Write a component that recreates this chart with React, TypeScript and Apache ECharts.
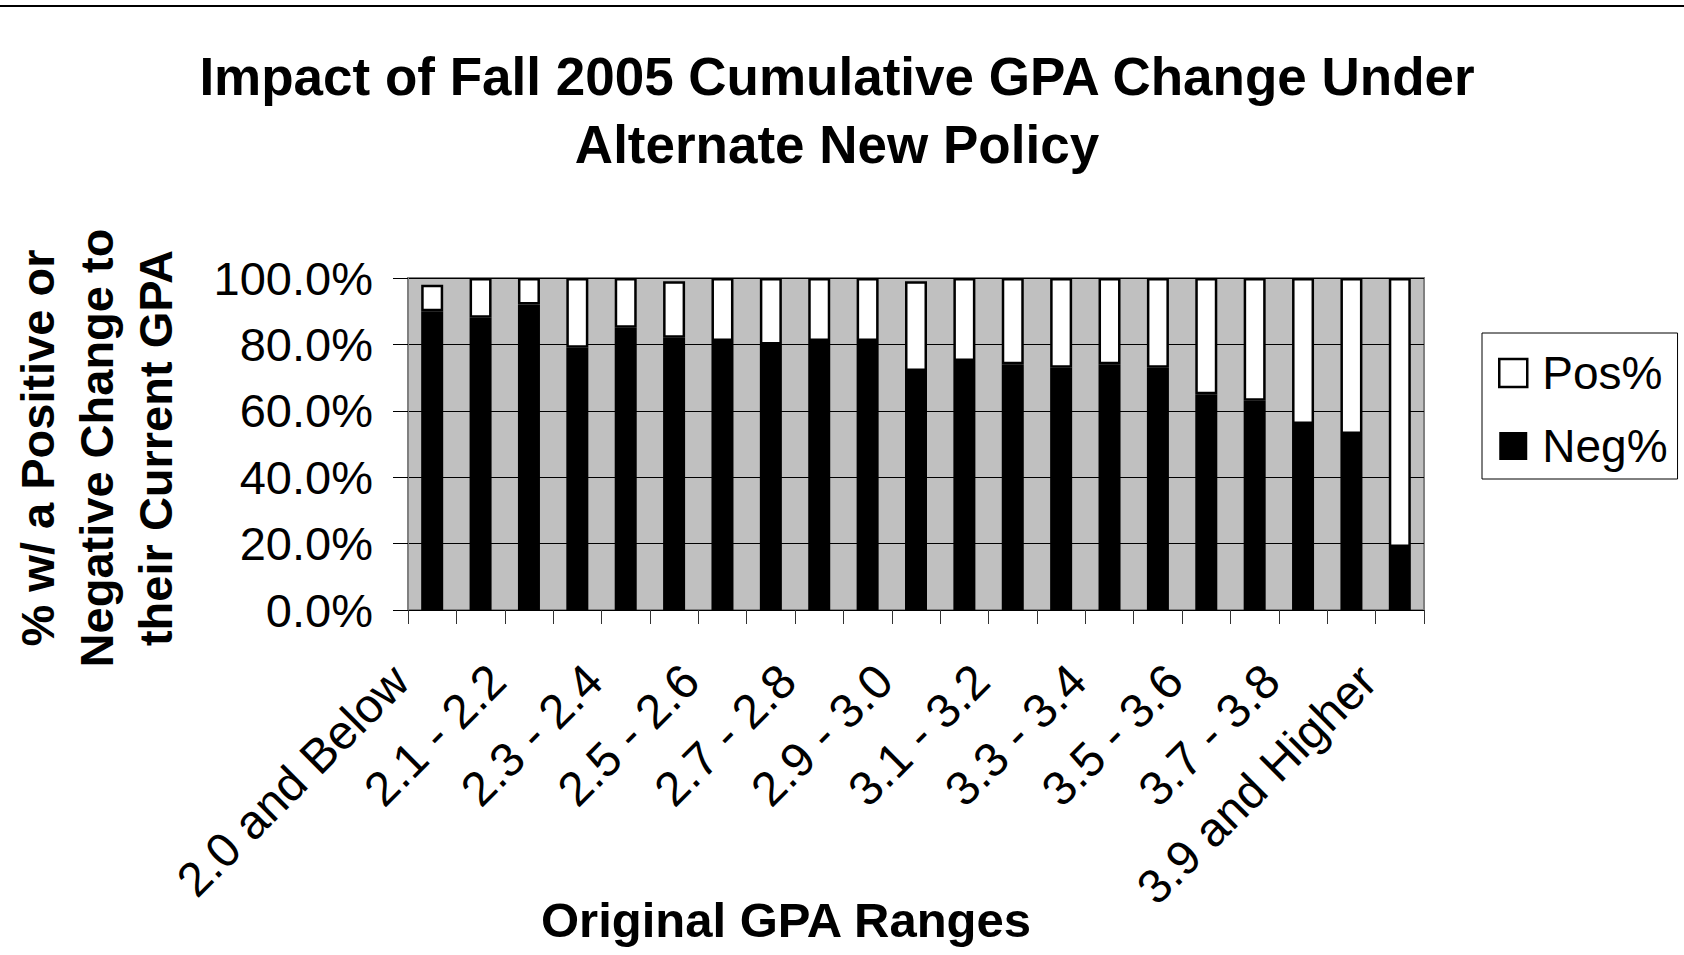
import React, { useEffect, useRef } from "react";
import * as echarts from "echarts";

const categories = [
  "2.0 and Below", "2.0 - 2.1", "2.1 - 2.2", "2.2 - 2.3", "2.3 - 2.4", "2.4 - 2.5",
  "2.5 - 2.6", "2.6 - 2.7", "2.7 - 2.8", "2.8 - 2.9", "2.9 - 3.0", "3.0 - 3.1",
  "3.1 - 3.2", "3.2 - 3.3", "3.3 - 3.4", "3.4 - 3.5", "3.5 - 3.6", "3.6 - 3.7",
  "3.7 - 3.8", "3.8 - 3.9", "3.9 and Higher",
];
const negPct = [90, 88, 92, 79, 85, 82, 81, 80, 81, 81, 72, 75, 74, 73, 74, 73, 65, 63, 56, 53, 19];
const posPct = [8, 12, 8, 21, 15, 17, 19, 20, 19, 19, 27, 25, 26, 27, 26, 27, 35, 37, 44, 47, 81];
const yTicks = { min: 0, max: 100, step: 20 };

const FONT = "Arial, 'Liberation Sans', sans-serif";

export default function App() {
  const ref = useRef<HTMLDivElement>(null);
  useEffect(() => {
    if (!ref.current) return;
    const chart = echarts.init(ref.current, null, { renderer: "svg" });
    chart.setOption({
      animation: false,
      backgroundColor: "#fff",
      title: {
        text: "Impact of Fall 2005 Cumulative GPA Change Under\nAlternate New Policy",
        left: 837,
        top: 42,
        padding: 0,
        textAlign: "center",
        textStyle: {
          fontFamily: FONT,
          fontSize: 53,
          fontWeight: "bold",
          color: "#000",
          lineHeight: 68,
        },
      },
      legend: {
        orient: "vertical",
        left: 1482,
        top: 333,
        padding: [17, 10, 10, 16],
        borderColor: "#000",
        borderWidth: 1,
        itemWidth: 28,
        itemHeight: 28,
        itemGap: 27,
        icon: "rect",
        textStyle: {
          fontFamily: FONT,
          fontSize: 46,
          color: "#000",
          lineHeight: 46,
          padding: [0, 0, 0, 10],
        },
        data: [
          { name: "Pos%", itemStyle: { color: "#fff", borderColor: "#000", borderWidth: 2.5 } },
          { name: "Neg%", itemStyle: { color: "#000", borderColor: "#000", borderWidth: 0 } },
        ],
      },
      grid: {
        left: 408,
        top: 278,
        width: 1016,
        height: 332,
        show: true,
        backgroundColor: "#c0c0c0",
        borderColor: "#808080",
        borderWidth: 2,
        containLabel: false,
      },
      xAxis: {
        type: "category",
        data: categories,
        boundaryGap: true,
        axisLine: { show: true, lineStyle: { color: "#000", width: 1 } },
        axisTick: { show: true, interval: 0, length: 14, lineStyle: { color: "#333", width: 1 } },
        axisLabel: {
          interval: 1,
          rotate: 45,
          fontFamily: FONT,
          fontSize: 48,
          color: "#000",
          margin: 31,
          padding: [0, 45, 0, 0],
        },
        splitLine: { show: false },
      },
      yAxis: {
        type: "value",
        min: yTicks.min,
        max: yTicks.max,
        interval: yTicks.step,
        axisLine: { show: true, lineStyle: { color: "#808080", width: 2 } },
        axisTick: { show: true, length: 15, lineStyle: { color: "#000", width: 1 } },
        axisLabel: {
          fontFamily: FONT,
          fontSize: 47,
          color: "#000",
          margin: 35,
          formatter: (v: number) => v.toFixed(1) + "%",
        },
        splitLine: { show: true, lineStyle: { color: "#000", width: 1 } },
      },
      series: [
        {
          name: "Neg%",
          type: "bar",
          stack: "total",
          data: negPct,
          barWidth: 22,
          itemStyle: { color: "#000", borderColor: "#000", borderWidth: 2.5 },
        },
        {
          name: "Pos%",
          type: "bar",
          stack: "total",
          data: posPct,
          barWidth: 22,
          itemStyle: { color: "#fff", borderColor: "#000", borderWidth: 2.5 },
        },
      ],
      graphic: [
        {
          type: "line",
          shape: { x1: 0, y1: 6, x2: 1684, y2: 6 },
          style: { stroke: "#000", lineWidth: 2 },
        },
        {
          type: "text",
          x: 96,
          y: 448,
          rotation: Math.PI / 2,
          style: {
            text: "% w/ a Positive or\nNegative Change to\ntheir Current GPA",
            font: `bold 47px ${FONT}`,
            fill: "#000",
            align: "center",
            verticalAlign: "middle",
            lineHeight: 59,
          },
        },
        {
          type: "text",
          x: 786,
          y: 920,
          style: {
            text: "Original GPA Ranges",
            font: `bold 49px ${FONT}`,
            fill: "#000",
            align: "center",
            verticalAlign: "middle",
          },
        },
      ],
    });
    return () => chart.dispose();
  }, []);
  return (
    <div
      ref={ref}
      style={{ position: "absolute", left: 0, top: 0, width: 1684, height: 955 }}
    />
  );
}
